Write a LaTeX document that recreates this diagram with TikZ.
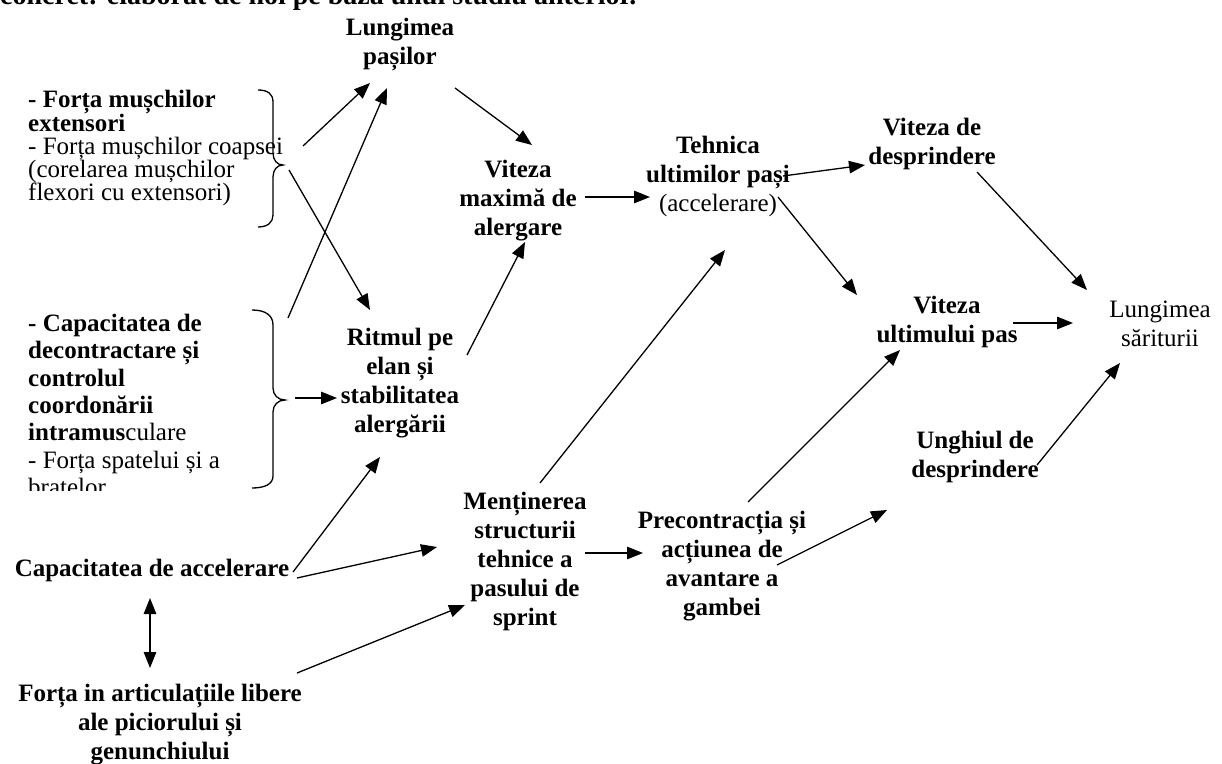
\documentclass[tikz,border=0pt]{standalone}
\usepackage{fontspec}
\setmainfont{Liberation Serif}
\usetikzlibrary{arrows.meta,calc}

\begin{document}
\begin{tikzpicture}[x=1pt,y=-1pt,
  every node/.style={inner sep=0pt,font=\fontsize{25}{29}\selectfont},
  lbl/.style={align=center,font=\fontsize{25}{29}\selectfont\bfseries},
  arr/.style={-{Triangle[length=16pt,width=12.5pt]},line width=1.3pt},
  brace/.style={line width=1.3pt}]
\useasboundingbox (0,0) rectangle (1222,763);

% line of the page above, cut by the frame
\begin{scope}
\clip (0,0) rectangle (1222,763);
\node[anchor=base west,font=\fontsize{28}{32}\selectfont\bfseries] (titlu) at (0,4)
  {concret: elaborat de noi pe baza unui studiu anterior.};
\end{scope}

\node[lbl] (lung) at (400,45) {Lungimea\\pașilor};
\node[anchor=west,align=left,font=\fontsize{25}{23}\selectfont] (fm) at (28,148)
  {\textbf{- Forța mușchilor}\\\textbf{extensori}\\- Forța mușchilor coapsei\\(corelarea mușchilor\\flexori cu extensori)};
\begin{scope}
\clip (0,300) rectangle (300,490);
\node[anchor=west,align=left,font=\fontsize{25}{27.3}\selectfont] (cap) at (28,405)
  {\textbf{- Capacitatea de}\\\textbf{decontractare și}\\\textbf{controlul}\\\textbf{coordonării}\\\textbf{intramus}culare\\- Forța spatelui și a\\bratelor};
\end{scope}
\node[lbl] (ritm) at (400,383) {Ritmul pe\\elan și\\stabilitatea\\alergării};
\node[lbl] (vmax) at (518,201) {Viteza\\maximă de\\alergare};
\node[lbl] (tehn) at (718,176) {Tehnica\\ultimilor pași\\{\mdseries(accelerare)}};
\node[lbl] (vdes) at (932,144) {Viteza de\\desprindere};
\node[lbl] (vult) at (947,322) {Viteza\\ultimului pas};
\node[align=center] (lsar) at (1160,324) {Lungimea\\săriturii};
\node[lbl] (ungh) at (975,457) {Unghiul de\\desprindere};
\node[lbl] (ment) at (525,561) {Menținerea\\structurii\\tehnice a\\pasului de\\sprint};
\node[lbl] (prec) at (722,566) {Precontracția și\\acțiunea de\\avantare a\\gambei};
\node[lbl] (cacc) at (152,570) {Capacitatea de accelerare};
\node[lbl] (fart) at (160,725) {Forța in articulațiile libere\\ale piciorului și\\genunchiului};

% acolade
\coordinate (br1) at (283,165);
\coordinate (br2) at (285,400);
\draw[brace] (258,90) .. controls (268,90) and (273,94) .. (273,102) -- (273,153)
  .. controls (273,160) and (277,165) .. (br1) .. controls (277,165) and (273,170) .. (273,177)
  -- (273,215) .. controls (273,222) and (268,227) .. (258,227);
\draw[brace] (252,310) .. controls (265,310) and (273,315) .. (273,325) -- (273,388)
  .. controls (273,395) and (278,400) .. (br2) .. controls (278,400) and (273,405) .. (273,412)
  -- (273,476) .. controls (273,484) and (265,488) .. (252,488);

\draw[arr] ([shift={(275,-2)}]fm.west) -- ([shift={(-30,38)}]lung.center);
\draw[arr] ([shift={(260,-87)}]cap.west) -- ([shift={(-13,43)}]lung.center);
\draw[arr] ([shift={(261,22)}]fm.west) -- ([shift={(-30,-73)}]ritm.center);
\draw[arr] ([shift={(10,-2)}]br2) -- ([shift={(-63,15)}]ritm.center);
\draw[arr] ([shift={(55,43)}]lung.center) -- ([shift={(14,-56)}]vmax.center);
\draw[arr] ([shift={(67,-28)}]ritm.center) -- ([shift={(7,41)}]vmax.center);
\draw[arr] ([shift={(67,-4)}]vmax.center) -- ([shift={(-68,21)}]tehn.center);
\draw[arr] ([shift={(65,0)}]tehn.center) -- ([shift={(-67,21)}]vdes.center);
\draw[arr] ([shift={(60,21)}]tehn.center) -- ([shift={(-90,-27)}]vult.center);
\draw[arr] ([shift={(45,28)}]vdes.center) -- ([shift={(-73,-34)}]lsar.center);
\draw[arr] ([shift={(66,1)}]vult.center) -- ([shift={(-87,-1)}]lsar.center);
\draw[arr] ([shift={(62,8)}]ungh.center) -- ([shift={(-40,39)}]lsar.center);
\draw[arr] ([shift={(15,-78)}]ment.center) -- ([shift={(7,74)}]tehn.center);
\draw[arr] ([shift={(60,-8)}]ment.center) -- ([shift={(-79,-13)}]prec.center);
\draw[arr] ([shift={(26,-64)}]prec.center) -- ([shift={(-47,28)}]vult.center);
\draw[arr] ([shift={(55,-1)}]prec.center) -- ([shift={(-88,53)}]ungh.center);
\draw[arr] ([shift={(141,2)}]cacc.center) -- ([shift={(-20,74)}]ritm.center);
\draw[arr] ([shift={(145,8)}]cacc.center) -- ([shift={(-88,-14)}]ment.center);
\draw[arr] ([shift={(137,-52)}]fart.center) -- ([shift={(-60,44)}]ment.center);
\draw[arr,{Triangle[length=16pt,width=12.5pt]}-{Triangle[length=16pt,width=12.5pt]}]
  ([shift={(-2,28)}]cacc.center) -- ([shift={(-10,-57)}]fart.center);
\end{tikzpicture}
\end{document}
